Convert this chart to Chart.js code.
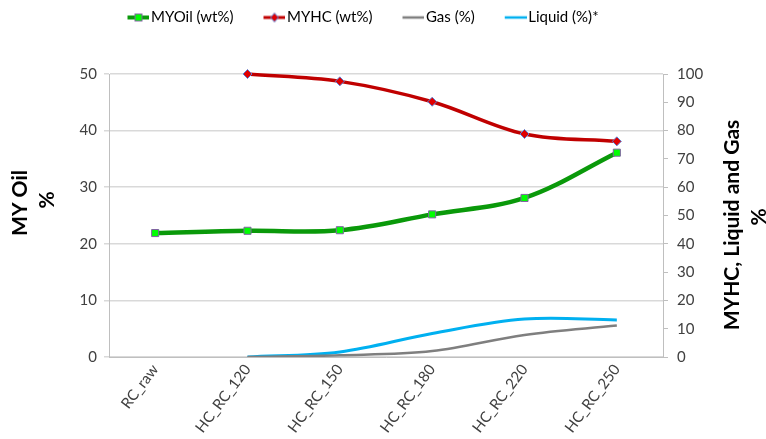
<!DOCTYPE html>
<html>
<head>
<meta charset="utf-8">
<script src="https://cdn.jsdelivr.net/npm/chart.js@4/dist/chart.umd.min.js"></script>
<style>
html, body { margin: 0; padding: 0; background: #fff; }
#wrap { width: 766px; height: 439px; }
</style>
</head>
<body>
<div id="wrap"><canvas id="chart" width="766" height="439"></canvas></div>
<script>
// categories and series
const categories = ['RC_raw', 'HC_RC_120', 'HC_RC_150', 'HC_RC_180', 'HC_RC_220', 'HC_RC_250'];
const myOil  = [21.9, 22.3, 22.4, 25.2, 28.1, 36.1];   // left axis
const myHC   = [null, 100, 97.4, 90.2, 78.8, 76.2];   // right axis
const gas    = [null, 0, 0.6, 2.1, 7.8, 11.1];        // right axis
const liquid = [null, 0, 1.8, 8.3, 13.4, 13.1];       // right axis

const leftMax = 50, leftStep = 10;
const rightMax = 100, rightStep = 10;
const leftTitle = ['MY Oil', '%'];
const rightTitle = ['MYHC, Liquid and Gas', '%'];

const FONT = 'Lato, "Open Sans", sans-serif';
const TXT = '#404040';
const GRID = '#d9d9d9';

// legend symbol: transparent gap on the left, then line + optional marker
const SYM_W = 36;   // pointStyleWidth used by the legend
function legendIcon(color, lw, marker, fill, stroke) {
    var c = document.createElement('canvas');
    c.width = SYM_W + 12; c.height = 12;
    var g = c.getContext('2d');
    var x0 = c.width - 22;
    g.strokeStyle = color;
    g.lineWidth = lw;
    g.beginPath(); g.moveTo(x0, 6); g.lineTo(c.width, 6); g.stroke();
    var cx = x0 + 11;
    if (marker == 'rect') {
        g.fillStyle = fill; g.strokeStyle = stroke; g.lineWidth = 1;
        g.fillRect(cx - 3.5, 2.5, 7, 7); g.strokeRect(cx - 3.5, 2.5, 7, 7);
    } else if (marker == 'diamond') {
        g.fillStyle = fill; g.strokeStyle = stroke; g.lineWidth = 1;
        g.beginPath();
        g.moveTo(cx, 1.5); g.lineTo(cx + 3.8, 6); g.lineTo(cx, 10.5); g.lineTo(cx - 3.8, 6); g.closePath();
        g.fill(); g.stroke();
    }
    return c;
}

const icons = [
    legendIcon('#0a990a', 4, 'rect', '#00ff00', '#8064a2'),
    legendIcon('#c00000', 3, 'diamond', '#e00000', '#5b7fd6'),
    legendIcon('#7f7f7f', 2.5),
    legendIcon('#00b0f0', 2.5)
];

// axis titles, both reading bottom-to-top
const axisTitles = {
    id: 'axisTitles',
    afterDraw(chart) {
        var ctx = chart.ctx;
        var rows = [
            [leftTitle[0], 20, 203], [leftTitle[1], 47, 200],
            [rightTitle[0], 732, 225], [rightTitle[1], 759, 217]
        ];
        ctx.save();
        ctx.fillStyle = '#000';
        ctx.font = 'bold 21px ' + FONT;
        ctx.textAlign = 'center';
        ctx.textBaseline = 'middle';
        rows.forEach(r => {
            ctx.save();
            ctx.translate(r[1], r[2]);
            ctx.rotate(-Math.PI / 2);
            ctx.fillText(r[0], 0, 0);
            ctx.restore();
        });
        ctx.restore();
    }
};

const ctx = document.getElementById('chart');
const mychart = new Chart(ctx, {
    type: 'line',
    data: {
        labels: categories,
        datasets: [{
            label: 'MYOil (wt%)',
            data: myOil,
            yAxisID: 'y',
            borderColor: '#0a990a',
            borderWidth: 4.5,
            pointStyle: 'rect',
            pointRadius: 5,
            pointBackgroundColor: '#00ff00',
            pointBorderColor: '#8064a2',
            pointBorderWidth: 1,
            tension: 0.35,
            clip: false
        }, {
            label: 'MYHC (wt%)',
            data: myHC,
            yAxisID: 'y1',
            borderColor: '#c00000',
            borderWidth: 3.5,
            pointStyle: 'rectRot',
            pointRadius: 4.5,
            pointBackgroundColor: '#e00000',
            pointBorderColor: '#5b7fd6',
            pointBorderWidth: 1,
            tension: 0.35,
            clip: false
        }, {
            label: 'Gas (%)',
            data: gas,
            yAxisID: 'y1',
            borderColor: '#7f7f7f',
            borderWidth: 2.5,
            pointRadius: 0,
            tension: 0.35
        }, {
            label: 'Liquid (%)*',
            data: liquid,
            yAxisID: 'y1',
            borderColor: '#00b0f0',
            borderWidth: 3,
            pointRadius: 0,
            tension: 0.35
        }]
    },
    options: {
        responsive: false,
        animation: false,
        layout: { padding: { top: 0, left: 0, right: 60, bottom: 0 } },
        plugins: {
            tooltip: { enabled: false },
            legend: {
                position: 'top',
                labels: {
                    color: '#000',
                    font: { family: FONT, size: 15 },
                    usePointStyle: true,
                    pointStyleWidth: SYM_W,
                    padding: 10,
                    generateLabels: function(chart) {
                        var items = Chart.defaults.plugins.legend.labels.generateLabels(chart);
                        items.forEach((it, i) => { it.pointStyle = icons[i]; });
                        return items;
                    }
                }
            }
        },
        scales: {
            x: {
                offset: true,
                grid: { display: false, drawTicks: false },
                border: { color: '#bfbfbf' },
                ticks: {
                    color: TXT,
                    font: { family: FONT, size: 15 },
                    maxRotation: 53,
                    minRotation: 53,
                    padding: 4
                },
                afterFit: function(scale) { scale.height = 82; }
            },
            y: {
                position: 'left',
                min: 0,
                max: leftMax,
                ticks: {
                    stepSize: leftStep,
                    color: TXT,
                    font: { family: FONT, size: 15 },
                    padding: 7
                },
                grid: { color: GRID, tickLength: 5, lineWidth: 1.5 },
                border: { color: '#bfbfbf' },
                afterFit: function(scale) { scale.width = 109; }
            },
            y1: {
                position: 'right',
                min: 0,
                max: rightMax,
                ticks: {
                    stepSize: rightStep,
                    color: TXT,
                    font: { family: FONT, size: 15 },
                    padding: 9
                },
                grid: { drawOnChartArea: false, color: '#bfbfbf', tickLength: 5 },
                border: { color: '#bfbfbf' },
                afterFit: function(scale) { scale.width = 43; }
            }
        }
    },
    plugins: [axisTitles]
});

// keep the legend at the top but leave room below it, so the plot starts at y=74
const legendFit = mychart.legend.fit;
mychart.legend.fit = function() {
    legendFit.call(this);
    this.height = 74;
};
mychart.update();
</script>
</body>
</html>
